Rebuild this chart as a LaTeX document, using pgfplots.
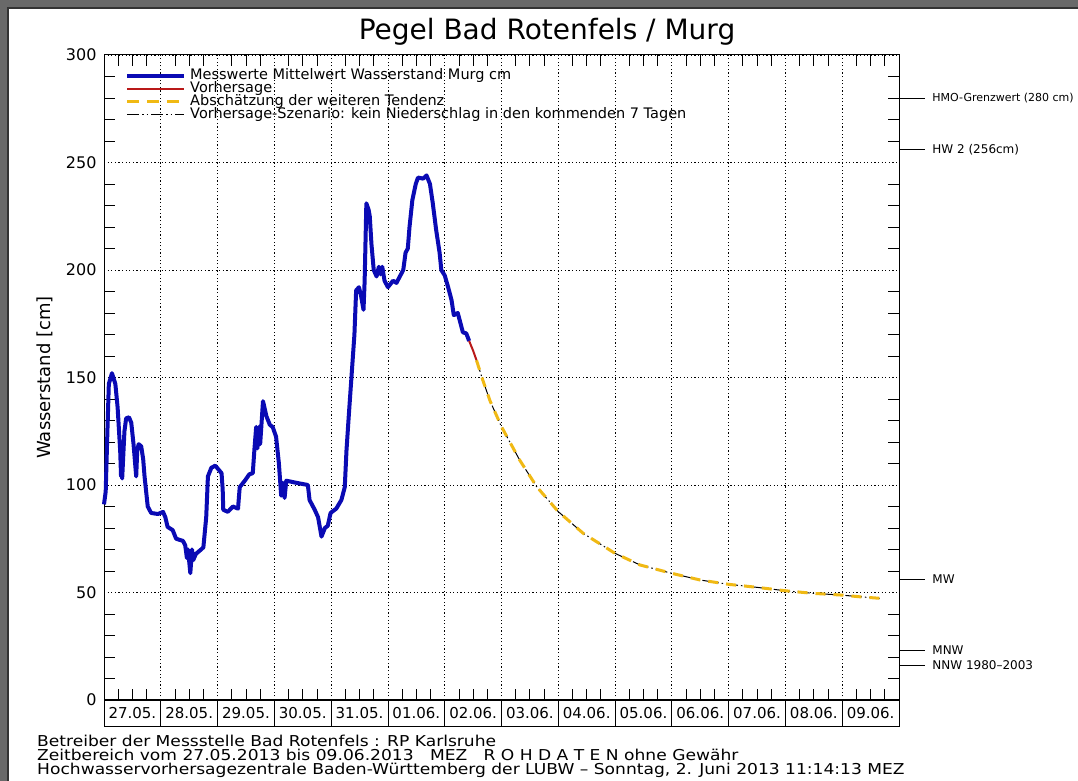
\documentclass[border=0pt]{standalone}
\usepackage{fontspec}
\setmainfont{DejaVu Sans}
\newfontfamily\breit{DejaVu Sans}[FakeStretch=1.14]
\usepackage{pgfplots}
\pgfplotsset{compat=1.18}

\definecolor{messblau}{RGB}{10,10,180}
\definecolor{vorhrot}{RGB}{185,25,25}
\definecolor{tendgelb}{RGB}{240,185,20}
\definecolor{rahmen}{RGB}{105,105,105}

\pgfplotsset{pegelrahmen/.style={
  at={(104pt,81pt)}, anchor=south west,
  scale only axis, width=795pt, height=645pt,
  xmin=0, xmax=14, ymin=0, ymax=300}}

\begin{document}
\begin{tikzpicture}
\path[use as bounding box] (0pt,0pt) rectangle (1078pt,781pt);
\clip (0pt,0pt) rectangle (1078pt,781pt);
\fill[rahmen] (0pt,0pt) rectangle (1078pt,781pt);
\fill[white] (8pt,0pt) rectangle (1078pt,773pt);
\draw[black!80, line width=1.2pt] (8pt,0pt) -- (8pt,773pt) -- (1078pt,773pt);

\node[font=\fontsize{28}{30}\selectfont] at (547pt,749pt) {Pegel Bad Rotenfels / Murg};

% Datumsfelder unter der Achse
\begin{axis}[
  pegelrahmen,
  axis line style={draw=none},
  xtick={0.5,1.5,...,13.5}, ytick=\empty,
  major tick length=0pt,
  xticklabels={27.05.,28.05.,29.05.,30.05.,31.05.,01.06.,02.06.,03.06.,04.06.,05.06.,06.06.,07.06.,08.06.,09.06.},
  xticklabel style={draw, line width=0.8pt, minimum width=56.79pt, minimum height=26pt,
      inner sep=0pt, anchor=north, font=\fontsize{15}{15}\selectfont},
]
\end{axis}

\begin{axis}[
  pegelrahmen,
  xtick={0,...,14}, xticklabels={},
  minor x tick num=3,
  ytick={0,50,...,300},
  minor y tick num=4,
  major tick length=0pt, minor tick length=11pt,
  tick style={black, line width=0.8pt},
  grid=major,
  major grid style={black, line width=0.75pt, dash pattern=on 1.2pt off 2.4pt},
  axis line style={line width=1pt},
  /pgf/number format/assume math mode=true,
  yticklabel style={font=\fontsize{16}{16}\selectfont, xshift=-4pt},
  ylabel={Wasserstand [cm]},
  ylabel style={font=\fontsize{18}{18}\selectfont, at={(axis description cs:-0.0742,0.5)}, anchor=center},
  clip=false,
  legend style={at={(axis description cs:0,1)}, anchor=north west, xshift=21pt, yshift=-14pt,
    draw=none, fill=none, inner sep=0pt, row sep=0pt,
    font=\fontsize{14.5}{13}\selectfont,
    nodes={inner xsep=4pt, inner ysep=0pt, text height=10pt, text depth=3pt}},
  legend cell align=left,
  legend image code/.code={\draw[#1] (0pt,0pt) -- (57pt,0pt);},
]

% Messwerte
\addplot[messblau, line width=4pt, line join=round] coordinates {
(0.00,91) (0.03,97) (0.06,125) (0.085,147) (0.14,152) (0.20,147) (0.24,136)
(0.285,116) (0.30,104) (0.31,112) (0.32,103) (0.36,125) (0.39,131) (0.44,131.5)
(0.48,129) (0.52,119) (0.567,104) (0.585,116) (0.61,119) (0.655,118) (0.69,112)
(0.714,104) (0.77,90) (0.83,87) (0.95,86.5) (1.04,87.5) (1.08,85) (1.12,80.5)
(1.21,79) (1.27,75) (1.39,74) (1.43,72) (1.46,66) (1.48,70) (1.52,59) (1.55,70)
(1.57,65) (1.62,68) (1.71,70) (1.75,71) (1.80,85) (1.83,104) (1.89,108) (1.96,109)
(2.07,105.5) (2.09,98) (2.10,88.5) (2.18,87.5) (2.27,90) (2.36,89) (2.39,99)
(2.48,102) (2.56,105) (2.62,105.5) (2.65,117) (2.68,127) (2.70,117) (2.71,119)
(2.73,127) (2.75,119) (2.80,139) (2.86,132) (2.92,128) (2.97,127) (3.03,122.5)
(3.08,110) (3.12,95) (3.15,101) (3.18,94) (3.21,102) (3.39,101) (3.59,100)
(3.62,93) (3.71,88.5) (3.77,85) (3.83,76) (3.89,80) (3.94,81) (3.99,87) (4.09,89)
(4.18,93) (4.24,99) (4.27,116) (4.31,132) (4.36,151) (4.41,170) (4.44,190.5)
(4.49,192) (4.53,187.5) (4.57,181.5) (4.59,195) (4.62,231) (4.66,228) (4.68,225)
(4.71,212) (4.75,200) (4.80,197) (4.84,201.5) (4.87,198) (4.90,201.5) (4.94,195)
(5.00,192) (5.09,195) (5.15,194) (5.21,197) (5.27,200) (5.31,208) (5.35,210)
(5.38,220) (5.43,232.5) (5.49,240) (5.53,243) (5.62,242.5) (5.68,244) (5.74,240)
(5.79,231) (5.85,218.5) (5.91,208) (5.94,200) (6.00,197.5) (6.06,192) (6.12,186)
(6.16,179) (6.23,180) (6.28,175) (6.32,171) (6.38,170.5) (6.43,167)
};
\addlegendentry{Messwerte Mittelwert Wasserstand Murg cm}

% Vorhersage
\addplot[vorhrot, line width=2pt] coordinates {(6.43,167) (6.50,162.5) (6.56,158)};
\addlegendentry{Vorhersage}

\addlegendimage{tendgelb, line width=3pt, dash pattern=on 12pt off 8pt}
\addlegendentry{Abschätzung der weiteren Tendenz}
\addlegendimage{black, line width=1pt, dash pattern=on 12pt off 3pt on 1.5pt off 3pt on 1.5pt off 3pt}
\addlegendentry{Vorhersage-Szenario: kein Niederschlag in den kommenden 7 Tagen}

% Szenario ohne Niederschlag
\addplot[black, line width=1pt, dash pattern=on 12pt off 3pt on 1.5pt off 3pt on 1.5pt off 3pt, forget plot] coordinates {
(6.56,158) (6.67,148.8) (6.80,139) (7.00,127.1) (7.32,111.6) (7.62,99.2) (8.00,87.6)
(8.44,77.5) (9.00,68.2) (9.44,62.8) (10.00,58.9) (10.50,55.8) (11.00,53.8)
(11.50,52.4) (12.00,50.8) (12.49,49.6) (12.99,48.8) (13.31,48) (13.66,47.3)
};
% Tendenz
\addplot[tendgelb, line width=3pt, dash pattern=on 10pt off 8pt, forget plot] coordinates {
(6.56,158) (6.67,148.8) (6.80,139) (7.00,127.1) (7.32,111.6) (7.62,99.2) (8.00,87.6)
(8.44,77.5) (9.00,68.2) (9.44,62.8) (10.00,58.9) (10.50,55.8) (11.00,53.8)
(11.50,52.4) (12.00,50.8) (12.49,49.6) (12.99,48.8) (13.31,48) (13.66,47.3)
};

% 6-Stunden-Striche oben und unten
\pgfplotsinvokeforeach{0.25,0.5,0.75,1.25,1.5,1.75,2.25,2.5,2.75,3.25,3.5,3.75,
    4.25,4.5,4.75,5.25,5.5,5.75,6.25,6.5,6.75,7.25,7.5,7.75,8.25,8.5,8.75,
    9.25,9.5,9.75,10.25,10.5,10.75,11.25,11.5,11.75,12.25,12.5,12.75,13.25,13.5,13.75}{
  \draw[black, line width=0.8pt] (axis cs:#1,0) -- ++(0pt,11pt);
  \draw[black, line width=0.8pt] (axis cs:#1,300) -- ++(0pt,-11pt);
}

% Kennwerte rechts
\draw[line width=0.8pt] (axis cs:14,280) -- ++(26pt,0pt) node[anchor=west, inner sep=0pt, xshift=7pt, font=\fontsize{11}{11}\selectfont] {HMO-Grenzwert (280 cm)};
\draw[line width=0.8pt] (axis cs:14,256) -- ++(26pt,0pt) node[anchor=west, inner sep=0pt, xshift=7pt, font=\fontsize{12}{12}\selectfont] {HW 2 (256cm)};
\draw[line width=0.8pt] (axis cs:14,56) -- ++(26pt,0pt) node[anchor=west, inner sep=0pt, xshift=7pt, font=\fontsize{12}{12}\selectfont] {MW};
\draw[line width=0.8pt] (axis cs:14,23) -- ++(26pt,0pt) node[anchor=west, inner sep=0pt, xshift=7pt, font=\fontsize{12}{12}\selectfont] {MNW};
\draw[line width=0.8pt] (axis cs:14,16) -- ++(26pt,0pt) node[anchor=west, inner sep=0pt, xshift=7pt, font=\fontsize{12}{12}\selectfont] {NNW 1980–2003};
\end{axis}

\node[anchor=base west, inner sep=0pt, font=\breit\fontsize{15}{15}\selectfont] at (37pt,34pt) {Betreiber der Messstelle Bad Rotenfels : RP Karlsruhe};
\node[anchor=base west, inner sep=0pt, font=\breit\fontsize{15}{15}\selectfont] at (37pt,20pt) {Zeitbereich vom 27.05.2013 bis 09.06.2013 \ \ MEZ \ \ R O H D A T E N ohne Gewähr};
\node[anchor=base west, inner sep=0pt, font=\breit\fontsize{15}{15}\selectfont] at (37pt,6pt) {Hochwasservorhersagezentrale Baden-Württemberg der LUBW – Sonntag, 2. Juni 2013 11:14:13 MEZ};
\end{tikzpicture}
\end{document}
